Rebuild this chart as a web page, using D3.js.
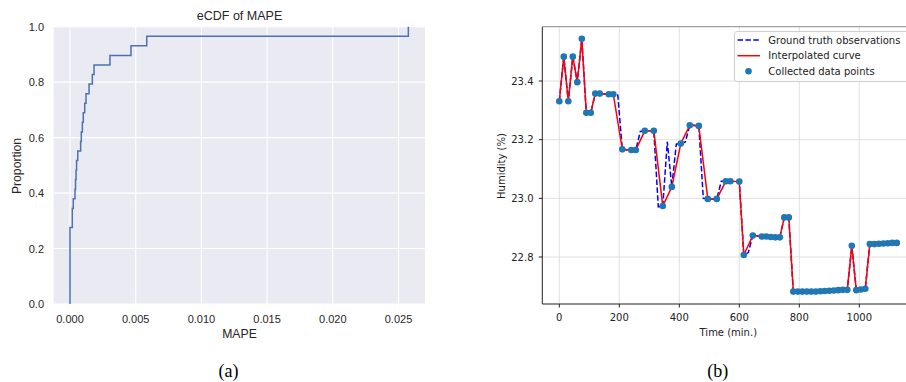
<!DOCTYPE html>
<html>
<head>
<meta charset="utf-8">
<script src="https://cdn.jsdelivr.net/npm/d3@7"></script>
<style>
html,body{margin:0;padding:0;background:#fff;}
svg{display:block;}
</style>
</head>
<body>
<svg id="chart" width="906" height="382"></svg>
<script>
// ---------- Data: (a) eCDF of MAPE (29 sorted samples) ----------
const mapeValues = [
  0, 0, 0, 0, 0, 0, 0, 0,
  0.000175, 0.000175, 0.00025,
  0.00038, 0.00042, 0.00046, 0.00050,
  0.00059, 0.00081, 0.00086, 0.00094, 0.00101, 0.00112, 0.00122,
  0.00145, 0.00170, 0.00183, 0.00304, 0.00464, 0.00584, 0.02575
];
const mapeTicks = [0, 0.005, 0.010, 0.015, 0.020, 0.025];
const propTicks = [0, 0.2, 0.4, 0.6, 0.8, 1.0];

// ---------- Data: (b) humidity ----------
const gtTime = [0,15,30,45,60,75,90,105,120,135,150,165,180,195,210,225,240,255,270,285,300,315,330,345,360,375,390,405,420,435,450,465,480,495,510,525,540,555,570,585,600,615,630,645,660,675,690,705,720,735,750,765,780,795,810,825,840,855,870,885,900,915,930,945,960,975,990,1005,1020,1035,1050,1065,1080,1095,1110,1125];
const gtHumidity = [23.331,23.483,23.331,23.483,23.396,23.544,23.292,23.292,23.357,23.357,23.356,23.355,23.355,23.352,23.167,23.165,23.165,23.165,23.228,23.230,23.230,23.230,22.971,22.974,23.193,23.039,23.185,23.187,23.192,23.249,23.249,23.247,23.000,22.998,22.998,22.998,23.058,23.058,23.058,23.057,23.057,22.807,22.815,22.873,22.872,22.870,22.870,22.868,22.867,22.867,22.935,22.935,22.682,22.682,22.682,22.682,22.682,22.682,22.683,22.684,22.685,22.686,22.687,22.688,22.688,22.838,22.687,22.689,22.692,22.844,22.844,22.845,22.846,22.847,22.848,22.848];
const ptTime = [0,15,30,45,60,75,90,105,120,135,165,180,210,240,255,285,315,345,375,405,435,465,495,525,555,570,600,615,645,675,690,705,720,735,750,765,780,795,810,825,840,855,870,885,900,915,930,945,960,975,990,1005,1020,1035,1050,1065,1080,1095,1110,1125];
const ptHumidity = [23.331,23.483,23.331,23.483,23.396,23.544,23.292,23.292,23.357,23.357,23.355,23.355,23.167,23.165,23.165,23.230,23.230,22.974,23.039,23.187,23.249,23.247,22.998,22.998,23.058,23.058,23.057,22.807,22.873,22.870,22.870,22.868,22.867,22.867,22.935,22.935,22.682,22.682,22.682,22.682,22.682,22.682,22.683,22.684,22.685,22.686,22.687,22.688,22.688,22.838,22.687,22.689,22.692,22.844,22.844,22.845,22.846,22.847,22.848,22.848];
const timeTicks = [0, 200, 400, 600, 800, 1000];
const humTicks = [22.8, 23.0, 23.2, 23.4];
const legendLabels = ["Ground truth observations", "Interpolated curve", "Collected data points"];

const svg = d3.select("#chart");
svg.append("rect").attr("width",906).attr("height",382).attr("fill","#fff");

// ================= (a) eCDF =================
(function(){
  const L=53.7, R=425, T=26.7, B=304;
  const font = "'Liberation Sans', Arial, sans-serif";
  const x = d3.scaleLinear().domain([(L-70)/13140, (R-70)/13140]).range([L,R]);
  const y = d3.scaleLinear().domain([0,1]).range([B,T]);
  const g = svg.append("g");
  g.append("rect").attr("x",L).attr("y",T).attr("width",R-L).attr("height",B-T).attr("fill","#EAEAF2");
  // grid
  g.append("g").selectAll("line").data(mapeTicks).join("line")
    .attr("x1",d=>x(d)).attr("x2",d=>x(d)).attr("y1",T).attr("y2",B)
    .attr("stroke","#fff").attr("stroke-width",1.1);
  g.append("g").selectAll("line").data(propTicks).join("line")
    .attr("x1",L).attr("x2",R).attr("y1",d=>y(d)).attr("y2",d=>y(d))
    .attr("stroke","#fff").attr("stroke-width",1.1);
  // ecdf
  const n = mapeValues.length;
  const sorted = mapeValues.slice().sort(d3.ascending);
  const pts = [];
  sorted.forEach((v,i)=>{ pts.push([v,(i+1)/n]); });
  const stepPts = [[sorted[0],0]].concat(pts);
  const line = d3.line().x(d=>x(d[0])).y(d=>y(d[1])).curve(d3.curveStepAfter);
  g.append("path").attr("d",line(stepPts)).attr("fill","none")
    .attr("stroke","#4C72B0").attr("stroke-width",1.5);
  // tick labels
  g.append("g").selectAll("text").data(mapeTicks).join("text")
    .attr("x",d=>x(d)).attr("y",322.5).attr("text-anchor","middle")
    .attr("font-family",font).attr("font-size",11).attr("fill","#262626")
    .text(d=>d3.format(".3f")(d));
  g.append("g").selectAll("text").data(propTicks).join("text")
    .attr("x",44).attr("y",d=>y(d)+4).attr("text-anchor","end")
    .attr("font-family",font).attr("font-size",11).attr("fill","#262626")
    .text(d=>d3.format(".1f")(d));
  g.append("text").attr("x",239.5).attr("y",20).attr("text-anchor","middle")
    .attr("font-family",font).attr("font-size",12.5).attr("fill","#262626").text("eCDF of MAPE");
  g.append("text").attr("x",239.5).attr("y",337.5).attr("text-anchor","middle")
    .attr("font-family",font).attr("font-size",12.2).attr("fill","#262626").text("MAPE");
  g.append("text").attr("transform","translate(21,166) rotate(-90)").attr("text-anchor","middle")
    .attr("font-family",font).attr("font-size",12.2).attr("fill","#262626").text("Proportion");
  g.append("text").attr("x",228.5).attr("y",377).attr("text-anchor","middle")
    .attr("font-family","'Liberation Serif','Times New Roman',serif").attr("font-size",18).attr("fill","#000").text("(a)");
})();

// ================= (b) Humidity =================
(function(){
  const L=542.3, R=912, T=26.7, B=304;
  const font = "'DejaVu Sans', sans-serif";
  const x = d3.scaleLinear().domain([(L-559.3)/0.3, (R-559.3)/0.3]).range([L,R]);
  const yk = 293.33;
  const y = d3.scaleLinear().domain([22.8-(B-257)/yk, 23.4+(81-T)/yk]).range([B,T]);
  const g = svg.append("g");
  // grid
  g.append("g").selectAll("line").data(timeTicks).join("line")
    .attr("x1",d=>x(d)).attr("x2",d=>x(d)).attr("y1",T).attr("y2",B)
    .attr("stroke","#dcdcdc").attr("stroke-width",0.9);
  g.append("g").selectAll("line").data(humTicks).join("line")
    .attr("x1",L).attr("x2",R).attr("y1",d=>y(d)).attr("y2",d=>y(d))
    .attr("stroke","#dcdcdc").attr("stroke-width",0.9);
  const line = d3.line().x((d,i)=>x(d[0])).y(d=>y(d[1]));
  const gt = gtTime.map((t,i)=>[t,gtHumidity[i]]);
  const pt = ptTime.map((t,i)=>[t,ptHumidity[i]]);
  g.append("path").attr("d",line(gt)).attr("fill","none")
    .attr("stroke","#0000ff").attr("stroke-width",1.5).attr("stroke-dasharray","5.5,2.4");
  g.append("path").attr("d",line(pt)).attr("fill","none")
    .attr("stroke","#ff0000").attr("stroke-width",1.5);
  g.append("g").selectAll("circle").data(pt).join("circle")
    .attr("cx",d=>x(d[0])).attr("cy",d=>y(d[1])).attr("r",3.3).attr("fill","#1f77b4");
  // spines
  g.append("line").attr("x1",L).attr("x2",L).attr("y1",T).attr("y2",B).attr("stroke","#222").attr("stroke-width",1);
  g.append("line").attr("x1",L).attr("x2",R).attr("y1",B).attr("y2",B).attr("stroke","#222").attr("stroke-width",1);
  g.append("line").attr("x1",L).attr("x2",R).attr("y1",T).attr("y2",T).attr("stroke","#888").attr("stroke-width",1);
  // ticks
  g.append("g").selectAll("line").data(timeTicks).join("line")
    .attr("x1",d=>x(d)).attr("x2",d=>x(d)).attr("y1",B).attr("y2",B+3.5).attr("stroke","#222");
  g.append("g").selectAll("line").data(humTicks).join("line")
    .attr("x1",L-3.5).attr("x2",L).attr("y1",d=>y(d)).attr("y2",d=>y(d)).attr("stroke","#222");
  g.append("g").selectAll("text").data(timeTicks).join("text")
    .attr("x",d=>x(d)).attr("y",320.5).attr("text-anchor","middle")
    .attr("font-family",font).attr("font-size",10).attr("fill","#222").text(d=>d);
  g.append("g").selectAll("text").data(humTicks).join("text")
    .attr("x",533.5).attr("y",d=>y(d)+3.6).attr("text-anchor","end")
    .attr("font-family",font).attr("font-size",10).attr("fill","#222").text(d=>d3.format(".1f")(d));
  g.append("text").attr("x",728.3).attr("y",335.5).attr("text-anchor","middle")
    .attr("font-family",font).attr("font-size",10).attr("fill","#222").text("Time (min.)");
  g.append("text").attr("transform","translate(504.5,166) rotate(-90)").attr("text-anchor","middle")
    .attr("font-family",font).attr("font-size",10).attr("fill","#222").text("Humidity (%)");
  // legend
  const lg = g.append("g");
  lg.append("rect").attr("x",734.5).attr("y",31.5).attr("width",185).attr("height",50).attr("rx",2.5)
    .attr("fill","#fff").attr("fill-opacity",0.8).attr("stroke","#d0d0d0").attr("stroke-width",1);
  const rowY = [40, 55.7, 71.3];
  lg.append("line").attr("x1",737.5).attr("x2",760).attr("y1",rowY[0]).attr("y2",rowY[0])
    .attr("stroke","#0000ff").attr("stroke-width",1.5).attr("stroke-dasharray","5.5,2.4");
  lg.append("line").attr("x1",737.5).attr("x2",760).attr("y1",rowY[1]).attr("y2",rowY[1])
    .attr("stroke","#ff0000").attr("stroke-width",1.5);
  lg.append("circle").attr("cx",748.5).attr("cy",rowY[2]).attr("r",3.3).attr("fill","#1f77b4");
  lg.selectAll("text").data(legendLabels).join("text")
    .attr("x",768.3).attr("y",(d,i)=>rowY[i]+3.6)
    .attr("font-family",font).attr("font-size",10).attr("fill","#222").text(d=>d);
  g.append("text").attr("x",717.7).attr("y",377).attr("text-anchor","middle")
    .attr("font-family","'Liberation Serif','Times New Roman',serif").attr("font-size",18).attr("fill","#000").text("(b)");
})();
</script>
</body>
</html>
